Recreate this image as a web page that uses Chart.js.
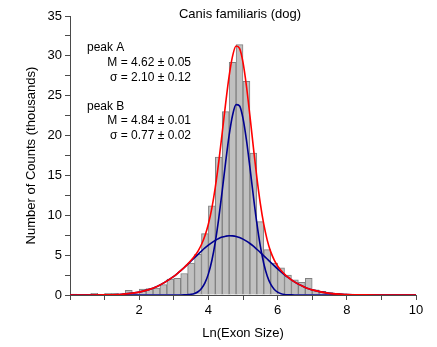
<!DOCTYPE html>
<html><head><meta charset="utf-8">
<script src="https://cdn.jsdelivr.net/npm/chart.js@4"></script>
<style>html,body{margin:0;padding:0;background:#fff}#wrap{width:437px;height:347px;position:relative}</style>
</head><body><div id="wrap"><canvas id="c"></canvas></div>
<script>
// Histogram bins (centres, width 0.2) and counts in thousands
const binCenters = [0.1,0.3,0.5,0.7,0.9,1.1,1.3,1.5,1.7,1.9,2.1,2.3,2.5,2.7,2.9,3.1,3.3,3.5,3.7,3.9,4.1,4.3,4.5,4.7,4.9,5.1,5.3,5.5,5.7,5.9,6.1,6.3,6.5,6.7,6.9,7.1,7.3,7.5,7.7,7.9,8.1,8.3];
const counts = [0.1,0,0,0.22,0,0.22,0.22,0.05,0.6,0.1,0.75,0.8,0.88,1.3,2.0,2.1,2.7,4.0,5.1,7.7,11.2,17.3,23.0,29.2,31.4,26.8,17.8,9.2,5.7,4.0,3.4,2.5,1.9,1.6,2.1,0.65,0.45,0.3,0.22,0.15,0.1,0.05];

// Fitted curves
const curveX = [0,0.5,1,1.5,2,2.5,3,3.1,3.2,3.3,3.4,3.5,3.6,3.7,3.8,3.9,4.0,4.1,4.2,4.3,4.4,4.5,4.6,4.7,4.8,4.9,5.0,5.1,5.2,5.3,5.4,5.5,5.6,5.7,5.8,5.9,6.0,6.1,6.2,6.3,6.4,6.5,6.6,6.7,6.8,6.9,7.0,7.5,8.0,8.5,9.0,9.5,10];
const totalFit = [0,0,0.02,0.10,0.36,1.03,2.33,2.68,3.05,3.45,3.88,4.35,4.88,5.51,6.33,7.42,8.91,10.91,13.53,16.74,20.37,24.10,27.49,30.00,31.23,30.94,29.17,26.19,22.47,18.51,14.75,11.50,8.88,6.89,5.44,4.40,3.64,3.07,2.61,2.23,1.90,1.62,1.37,1.15,0.95,0.78,0.64,0.20,0.05,0.01,0,0,0];
const peakA = [0,0,0.02,0.10,0.36,1.03,2.33,2.68,3.05,3.44,3.84,4.26,4.68,5.10,5.51,5.90,6.26,6.58,6.86,7.09,7.27,7.38,7.44,7.42,7.35,7.21,7.01,6.76,6.46,6.12,5.74,5.35,4.93,4.51,4.09,3.68,3.28,2.90,2.54,2.20,1.89,1.62,1.37,1.15,0.95,0.78,0.64,0.20,0.05,0.01,0,0,0];
const peakB = [0,0,0,0,0,0,0,0,0,0.01,0.04,0.09,0.20,0.41,0.82,1.52,2.65,4.33,6.67,9.65,13.10,16.72,20.05,22.58,23.88,23.73,22.16,19.43,16.01,12.39,9.01,6.15,3.95,2.38,1.35,0.72,0.36,0.17,0.07,0.03,0.01,0,0,0,0,0,0,0,0,0,0,0,0];

const xTickLabels = [2,4,6,8,10];
const yTickLabels = [0,5,10,15,20,25,30,35];

const titleText = 'Canis familiaris (dog)';
const annotations = [
  ['peak A','left'],['M = 4.62 \u00b1 0.05','right'],['\u03c3 = 2.10 \u00b1 0.12','right'],
  ['peak B','left'],['M = 4.84 \u00b1 0.01','right'],['\u03c3 = 0.77 \u00b1 0.02','right']
];

const FAM = '"Liberation Sans", Arial, Helvetica, sans-serif';
const pts = (xs, ys) => xs.map((x, i) => ({x: x, y: ys[i]}));

const textPlugin = {
  id: 'texts',
  afterDraw(chart) {
    const ctx = chart.ctx;
    ctx.save();
    ctx.fillStyle = '#000';
    ctx.textBaseline = 'middle';
    ctx.font = '13px ' + FAM;
    ctx.textAlign = 'center';
    ctx.fillText(titleText, 240, 14);
    ctx.font = '12px ' + FAM;
    const ys = [48, 63, 77.5, 107, 120.5, 135.5];
    annotations.forEach((a, i) => {
      ctx.textAlign = a[1];
      ctx.fillText(a[0], a[1] === 'left' ? 87 : 191, ys[i]);
    });
    ctx.restore();
  }
};

const axisColor = '#4a4a4a';
new Chart(document.getElementById('c'), {
  type: 'line',
  data: {
    datasets: [
      {type: 'line', data: pts(curveX, totalFit), borderColor: '#ff0000', borderWidth: 1.6, pointRadius: 0, cubicInterpolationMode: 'monotone', fill: false, order: 0},
      {type: 'line', data: pts(curveX, peakB), borderColor: '#000090', borderWidth: 1.6, pointRadius: 0, cubicInterpolationMode: 'monotone', fill: false, order: 1},
      {type: 'line', data: pts(curveX, peakA), borderColor: '#000090', borderWidth: 1.6, pointRadius: 0, cubicInterpolationMode: 'monotone', fill: false, order: 2},
      {type: 'bar', data: pts(binCenters, counts), backgroundColor: '#c0c0c0', borderColor: '#808080', borderWidth: 1, barPercentage: 1, categoryPercentage: 1, order: 3}
    ]
  },
  options: {
    responsive: true, maintainAspectRatio: false, animation: false,
    layout: {padding: {top: 16, right: 21, left: 0, bottom: 0}},
    plugins: {legend: {display: false}, tooltip: {enabled: false}, title: {display: false}},
    scales: {
      x: {
        type: 'linear', min: 0, max: 10, offset: false,
        ticks: {stepSize: 1, autoSkip: false, maxRotation: 0, padding: 3, color: '#000', font: {size: 13, family: FAM},
          callback: v => xTickLabels.includes(v) ? String(v) : ''},
        grid: {drawOnChartArea: false, drawTicks: true, tickLength: 5, color: axisColor, offset: false},
        border: {display: true, color: axisColor, width: 1},
        title: {display: true, text: 'Ln(Exon Size)', color: '#000', font: {size: 13, family: FAM}, padding: {top: 0, bottom: 6}},
        afterFit: s => { s.height = 52; }
      },
      y: {
        min: 0, max: 35,
        ticks: {stepSize: 2.5, autoSkip: false, padding: 3, color: '#000', font: {size: 13, family: FAM},
          callback: v => yTickLabels.includes(v) ? String(v) : ''},
        grid: {drawOnChartArea: false, drawTicks: true, tickLength: 5, color: axisColor},
        border: {display: true, color: axisColor, width: 1},
        title: {display: true, text: 'Number of Counts (thousands)', color: '#000', font: {size: 13, family: FAM}, padding: {top: 24, bottom: 0}},
        afterFit: s => { s.width = 70; }
      }
    }
  },
  plugins: [textPlugin]
});
</script>
</body></html>
